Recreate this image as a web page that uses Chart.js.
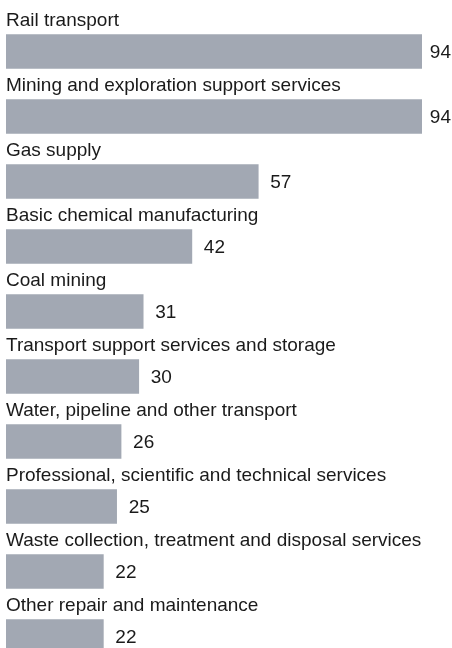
<!DOCTYPE html>
<html>
<head>
<meta charset="utf-8">
<script src="https://cdn.jsdelivr.net/npm/chart.js@4.4.1/dist/chart.umd.min.js"></script>
<style>
  html, body { margin: 0; padding: 0; background: #fff; overflow: hidden; }
  #wrap { width: 452px; height: 690px; }
</style>
</head>
<body>
<div id="wrap"><canvas id="myChart"></canvas></div>
<script>
const categories = [
  "Rail transport",
  "Mining and exploration support services",
  "Gas supply",
  "Basic chemical manufacturing",
  "Coal mining",
  "Transport support services and storage",
  "Water, pipeline and other transport",
  "Professional, scientific and technical services",
  "Waste collection, treatment and disposal services",
  "Other repair and maintenance",
];
const values = [94, 94, 57, 42, 31, 30, 26, 25, 22, 22];

const FONT = '19px "Liberation Sans", Arial, Helvetica, sans-serif';

// labels above each bar and values at the bar ends
const barLabels = {
  id: "barLabels",
  afterDatasetsDraw(chart) {
    const ctx = chart.ctx;
    const meta = chart.getDatasetMeta(0);
    ctx.save();
    ctx.font = FONT;
    ctx.fillStyle = "#1a1a1a";
    meta.data.forEach((bar, i) => {
      const top = bar.y - bar.height / 2;
      ctx.textBaseline = "alphabetic";
      ctx.textAlign = "left";
      ctx.fillText(categories[i], chart.chartArea.left, top - 8.5);

      const txt = String(values[i]);
      const w = ctx.measureText(txt).width;
      let x = bar.x + 12;
      if (x + w > chart.width - 1) x = chart.width - 1 - w;
      ctx.textBaseline = "middle";
      ctx.fillText(txt, x, bar.y + 1);
    });
    ctx.restore();
  },
};

new Chart(document.getElementById("myChart"), {
  type: "bar",
  data: {
    labels: categories,
    datasets: [
      {
        data: values,
        backgroundColor: "#a2a8b3",
        barThickness: 34,
      },
    ],
  },
  options: {
    indexAxis: "y",
    responsive: true,
    maintainAspectRatio: false,
    animation: false,
    layout: {
      padding: { top: 19, bottom: 21, left: 6, right: 30 },
    },
    scales: {
      x: { display: false, min: 0, max: 94 },
      y: { display: false },
    },
    plugins: {
      legend: { display: false },
      tooltip: { enabled: false },
    },
  },
  plugins: [barLabels],
});
</script>
</body>
</html>
